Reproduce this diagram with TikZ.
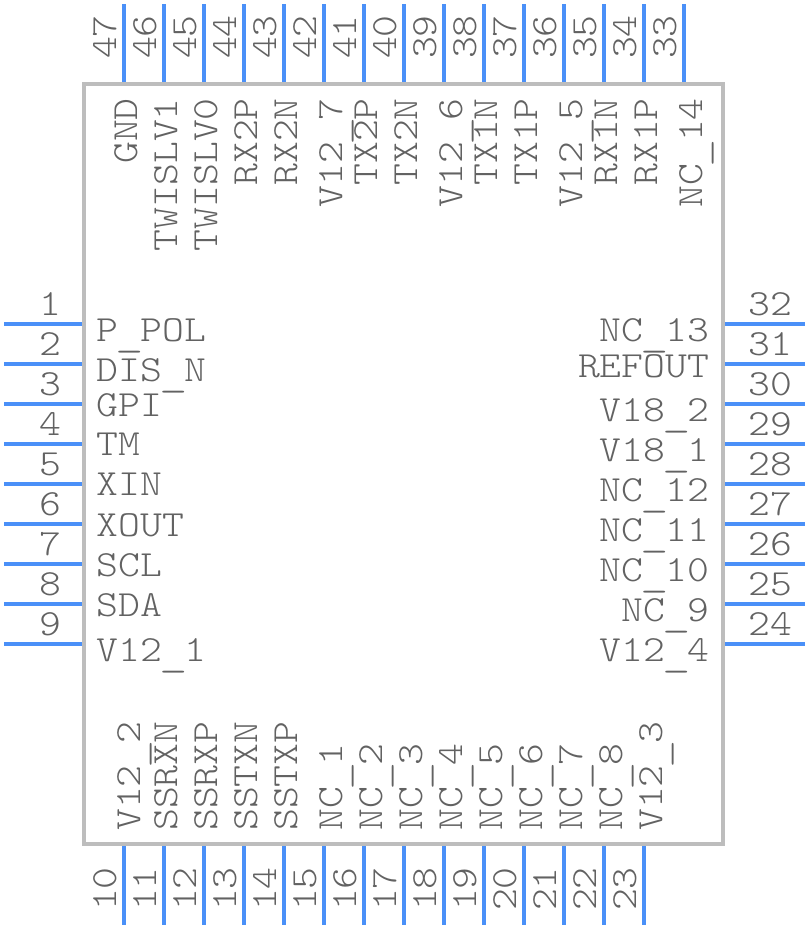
\documentclass[tikz,border=0pt]{standalone}
\usepackage{fontspec}
\usepackage{graphicx}
\setmonofont[FakeStretch=1.13]{Latin Modern Mono Light}
\usetikzlibrary{positioning}
\definecolor{pinblue}{HTML}{4A90F8}
\definecolor{bodygrey}{HTML}{BDBDBD}
\definecolor{textgrey}{HTML}{626262}
% the underscore sits lower and runs wider here
\newcommand{\usc}{\makebox[15.55pt][c]{\raisebox{-3.6pt}{\scalebox{1.3}[1]{\_}}}}

\begin{document}
\begin{tikzpicture}[x=0.025cm, y=-0.025cm]
    \tikzset{
        chipbody/.style = {rectangle, draw=bodygrey, line width=2.9pt, minimum width=15.975cm, minimum height=19cm, outer sep=0pt},
        pin/.style = {draw=pinblue, line width=2.9pt},
        chiptext/.style = {inner sep=0pt, text=textgrey, font=\fontsize{26.2}{28}\ttfamily},
        pinname/.style = {chiptext, anchor=base west},
        pinnameR/.style = {chiptext, anchor=base east},
        pinnum/.style = {chiptext, anchor=base}
    }
    \useasboundingbox (0,0) rectangle (808,928);
    \node (chip) [chipbody] at (403.5,464) {};

    % left side
    \foreach \n/\lab/\base [count=\i from 0] in {1/P\usc POL/341, 2/DIS\usc N/381, 3/GPI/416, 4/TM/455, 5/XIN/495, 6/XOUT/536, 7/SCL/576, 8/SDA/616, 9/V12\usc 1/661} {
        \coordinate (pin\n) at (82,324+40*\i);
        \coordinate (end\n) at (3.5,324+40*\i);
        \draw [pin] (pin\n) -- (end\n);
        \node (num\n) [pinnum] at (50,315+40*\i) {\n};
        \node (lab\n) [pinname] at (96.5,\base) {\lab};
    }

    % right side
    \foreach \n/\lab/\base [count=\i from 0] in {32/NC\usc 13/341, 31/REFOUT/377, 30/V18\usc 2/421, 29/V18\usc 1/461, 28/NC\usc 12/501, 27/NC\usc 11/541, 26/NC\usc 10/581, 25/NC\usc 9/621, 24/V12\usc 4/661} {
        \coordinate (pin\n) at (725,324+40*\i);
        \coordinate (end\n) at (805,324+40*\i);
        \draw [pin] (pin\n) -- (end\n);
        \node (num\n) [pinnum] at (770,315+40*\i) {\n};
        \node (lab\n) [pinnameR] at (709.5,\base) {\lab};
    }

    % top side
    \foreach \n/\lab/\base [count=\i from 0] in {47/GND/137, 46/TWISLV1/177, 45/TWISLV0/217, 44/RX2P/257, 43/RX2N/297, 42/V12\usc 7/342, 41/TX2P/377, 40/TX2N/417, 39/V12\usc 6/462, 38/TX1N/497, 37/TX1P/537, 36/V12\usc 5/582, 35/RX1N/617, 34/RX1P/657, 33/NC\usc 14/702} {
        \coordinate (pin\n) at (124+40*\i,82);
        \coordinate (end\n) at (124+40*\i,3.5);
        \draw [pin] (pin\n) -- (end\n);
        \node (num\n) [pinnum, rotate=90] at (116+40*\i,37) {\n};
        \node (lab\n) [pinnameR, rotate=90] at (\base,98) {\lab};
    }

    % bottom side
    \foreach \n/\lab/\base [count=\i from 0] in {10/V12\usc 2/140, 11/SSRXN/177, 12/SSRXP/217, 13/SSTXN/257, 14/SSTXP/297, 15/NC\usc 1/342, 16/NC\usc 2/382, 17/NC\usc 3/422, 18/NC\usc 4/462, 19/NC\usc 5/502, 20/NC\usc 6/542, 21/NC\usc 7/582, 22/NC\usc 8/622, 23/V12\usc 3/662} {
        \coordinate (pin\n) at (124+40*\i,846);
        \coordinate (end\n) at (124+40*\i,925);
        \draw [pin] (pin\n) -- (end\n);
        \node (num\n) [pinnum, rotate=90] at (116+40*\i,889) {\n};
        \node (lab\n) [pinname, rotate=90] at (\base,831) {\lab};
    }
\end{tikzpicture}
\end{document}
